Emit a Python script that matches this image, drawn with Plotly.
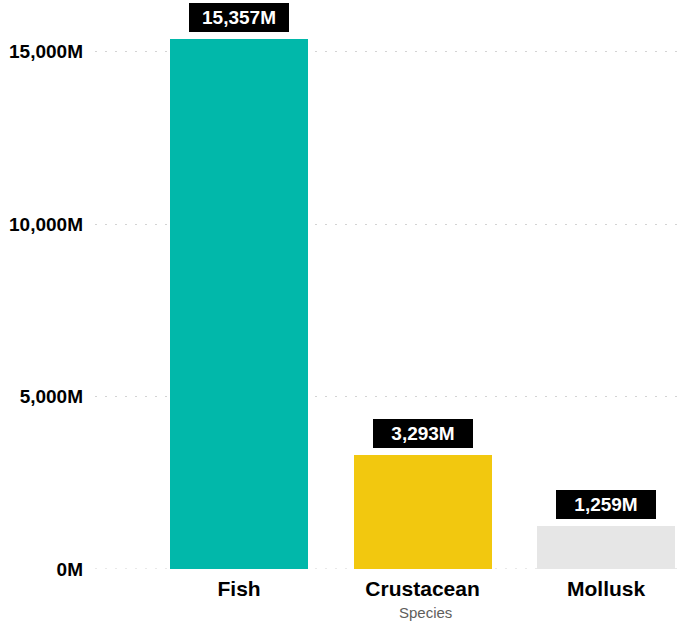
import plotly.graph_objects as go

# Catch by species, in millions
species = ["Fish", "Crustacean", "Mollusk"]
catch_millions = [15357, 3293, 1259]
bar_colors = ["#01B8AA", "#F2C80F", "#E6E6E6"]
y_ticks = [0, 5000, 10000, 15000]

def fmt_m(v):
    return f"{v:,}M"

GRID_DASH = "2px,8px"
GRID_COLOR = "#D3D3D3"

fig = go.Figure(
    go.Bar(
        x=species,
        y=catch_millions,
        marker=dict(color=bar_colors, line=dict(width=0)),
        width=0.752,
        hoverinfo="skip",
    )
)

# Black value badges above each bar
for s, v in zip(species, catch_millions):
    fig.add_annotation(
        x=s, y=v, xref="x", yref="y",
        text=fmt_m(v), showarrow=False,
        yanchor="bottom", yshift=7,
        bgcolor="#000000", borderpad=1, borderwidth=0,
        width=98, height=27,
        font=dict(family="Liberation Sans", size=19, color="white", weight="bold"),
    )

# Axis title for the category axis
fig.add_annotation(
    x=1, y=0, xref="x", yref="paper",
    text="Species", showarrow=False,
    yanchor="middle", yshift=-43, xshift=3,
    font=dict(family="Liberation Sans", size=15, color="#605E5C"),
)

# Dotted baseline at zero (the range edge hides the grid line there)
fig.add_shape(
    type="line", xref="paper", yref="y",
    x0=0, x1=1, y0=0, y1=0,
    line=dict(color=GRID_COLOR, width=1, dash=GRID_DASH),
    layer="below",
)

fig.update_layout(
    width=678, height=625,
    margin=dict(l=95, r=0, t=0, b=56),
    plot_bgcolor="white", paper_bgcolor="white",
    showlegend=False,
    bargap=0,
    xaxis=dict(
        range=[-0.785, 2.392],
        showgrid=False, zeroline=False, showline=False,
        ticks="", ticklabelstandoff=5,
        tickfont=dict(family="Liberation Sans", size=21, color="#000000", weight="bold"),
    ),
    yaxis=dict(
        range=[0, 16500],
        tickvals=y_ticks,
        ticktext=[fmt_m(v) for v in y_ticks],
        showgrid=True, gridcolor=GRID_COLOR, gridwidth=1, griddash=GRID_DASH,
        zeroline=False, showline=False,
        ticks="", ticklabelstandoff=11,
        tickfont=dict(family="Liberation Sans", size=19, color="#000000", weight="bold"),
    ),
)

fig.write_html("out.html")
